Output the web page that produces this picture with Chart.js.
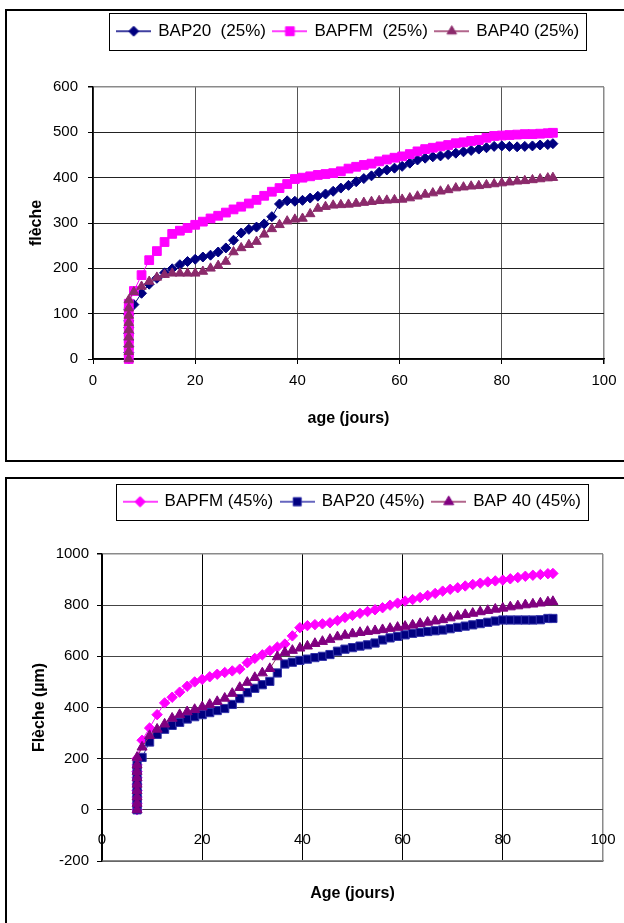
<!DOCTYPE html>
<html>
<head>
<meta charset="utf-8">
<script src="https://cdn.jsdelivr.net/npm/chart.js@4/dist/chart.umd.min.js"></script>
<style>
    html, body { margin: 0; padding: 0; background: #fff; overflow: hidden; }
    .frame { position: absolute; left: 5px; width: 640px; border: 2px solid #000; background: #fff; }
    #frame-top { top: 9px; height: 449px; }
    #frame-bottom { top: 477px; height: 450px; }
</style>
</head>
<body>
<div class="frame" id="frame-top"><canvas id="chart-top"></canvas></div>
<div class="frame" id="frame-bottom"><canvas id="chart-bottom"></canvas></div>
<script>
// age in days, shared by every series (the first rows are the loading readings at day 7)
const ages = [
    7, 7, 7, 7, 7, 7, 7, 7, 7,
    8, 9.5, 11, 12.5, 14, 15.5, 17, 18.5, 20,
    21.5, 23, 24.5, 26, 27.5, 29, 30.5, 32, 33.5, 35,
    36.5, 38, 39.5, 41, 42.5, 44, 45.5, 47, 48.5, 50,
    51.5, 53, 54.5, 56, 57.5, 59, 60.5, 62, 63.5, 65,
    66.5, 68, 69.5, 71, 72.5, 74, 75.5, 77, 78.5, 80,
    81.5, 83, 84.5, 86, 87.5, 89, 90
];

// top chart: 25% load
const bap20_25 = [
    0, 14, 28, 42, 56, 70, 84, 98, 110,
    120, 145, 165, 178, 190, 199, 208, 215, 220,
    225, 229, 236, 245, 262, 278, 286, 291, 298, 314,
    342, 349, 348, 350, 355, 359, 364, 370, 377, 383,
    391, 398, 404, 412, 417, 421, 425, 432, 439, 443,
    446, 448, 451, 454, 457, 460, 463, 466, 469, 470,
    469, 468, 469, 470, 472, 473, 475
];
const bapfm_25 = [
    0, 15, 30, 45, 60, 75, 90, 105, 122,
    150, 185, 218, 238, 258, 276, 283, 289, 296,
    303, 310, 316, 323, 330, 336, 343, 351, 360, 369,
    377, 386, 397, 400, 403, 406, 408, 410, 414, 420,
    424, 428, 431, 436, 440, 444, 447, 452, 458, 463,
    466, 469, 472, 476, 478, 481, 483, 488, 492, 493,
    494, 495, 496, 496, 497, 498, 499
];
const bap40_25 = [
    0, 16, 32, 48, 64, 80, 96, 112, 130,
    148, 160, 171, 180, 186, 189, 189, 189, 189,
    193, 200, 206, 215, 236, 245, 252, 259, 275, 287,
    296, 304, 308, 310, 320, 332, 336, 339, 340, 341,
    343, 345, 347, 349, 350, 351, 352, 355, 359, 363,
    366, 370, 373, 377, 379, 381, 382, 384, 386, 388,
    390, 392, 393, 395, 397, 399, 400
];

// bottom chart: 45% load
const bapfm_45 = [
    0, 25, 50, 75, 100, 125, 150, 175, 200,
    272, 320, 372, 418, 440, 460, 483, 500, 510,
    520, 530, 537, 543, 550, 575, 592, 606, 622, 636,
    648, 680, 712, 720, 724, 727, 731, 740, 752, 760,
    768, 775, 782, 790, 800, 808, 816, 822, 830, 838,
    846, 855, 862, 868, 875, 881, 886, 891, 895, 898,
    903, 908, 913, 917, 920, 923, 924
];
const bap20_45 = [
    0, 22, 44, 66, 88, 110, 132, 154, 175,
    205, 265, 295, 315, 330, 342, 355, 364, 372,
    380, 388, 396, 412, 435, 458, 475, 489, 502, 535,
    570, 577, 584, 589, 595, 600, 607, 620, 628, 634,
    640, 645, 652, 664, 672, 678, 684, 690, 694, 697,
    700, 703, 708, 713, 718, 723, 728, 733, 738, 742,
    742, 742, 742, 742, 743, 748, 748
];
const bap40_45 = [
    0, 25, 50, 75, 100, 125, 150, 175, 205,
    245, 290, 315, 335, 358, 372, 383, 392, 402,
    412, 423, 436, 455, 478, 498, 517, 535, 552, 598,
    615, 623, 632, 640, 650, 658, 666, 676, 682, 688,
    693, 697, 700, 704, 709, 713, 717, 722, 728, 733,
    738, 743, 750, 757, 763, 768, 774, 779, 784, 788,
    793, 797, 801, 804, 808, 812, 814
];

const labelsTop = ['BAP20  (25%)', 'BAPFM  (25%)', 'BAP40 (25%)'];
const labelsBottom = ['BAPFM (45%)', 'BAP20 (45%)', 'BAP 40 (45%)'];
const ageRange = [0, 100, 20];
const yRangeTop = [0, 600, 100];
const yRangeBottom = [-200, 1000, 200];

(function () {
    Chart.defaults.font.family = "'Liberation Sans', Arial, sans-serif";
    Chart.defaults.color = '#000';

    const points = values => ages.map((x, i) => ({x: x, y: values[i]}));

    function legendIcon(s) {
        const c = document.createElement('canvas');
        c.width = 35;
        c.height = 14;
        const g = c.getContext('2d');
        g.strokeStyle = s.line;
        g.lineWidth = 1.5;
        g.beginPath();
        g.moveTo(0, 7);
        g.lineTo(35, 7);
        g.stroke();
        g.fillStyle = s.fill;
        g.strokeStyle = s.stroke;
        g.lineWidth = 1;
        Chart.helpers.drawPoint(g, {pointStyle: s.style, radius: s.radius, borderWidth: 1, rotation: 0}, 17.5, 7);
        return c;
    }

    function makeDataset(label, values, s, order) {
        return {
            label: label,
            data: points(values),
            showLine: true,
            borderColor: s.line,
            borderWidth: 1,
            pointStyle: s.style,
            pointRadius: s.radius,
            pointBackgroundColor: s.fill,
            pointBorderColor: s.stroke,
            pointBorderWidth: 1,
            clip: false,
            order: order,
        };
    }

    // frame round the legend items, like the spreadsheet legend box
    const legendFrame = {
        id: 'legendFrame',
        afterDraw(chart) {
            const boxes = chart.legend && chart.legend.legendHitBoxes;
            if (!boxes || !boxes.length) return;
            const first = boxes[0];
            const last = boxes[boxes.length - 1];
            const mid = first.top + first.height / 2;
            const left = Math.round(first.left - 8.5) + 0.5;
            const right = Math.round(last.left + last.width + 7) + 0.5;
            const top = Math.round(mid - 18) + 0.5;
            const bottom = Math.round(mid + 18.5) + 0.5;
            const ctx = chart.ctx;
            ctx.save();
            ctx.strokeStyle = '#000';
            ctx.lineWidth = 1;
            ctx.strokeRect(left, top, right - left, bottom - top);
            ctx.restore();
        }
    };

    function newChart(el, cfg) {
        const icons = cfg.series.map(legendIcon);
        return new Chart(el, {
            type: 'scatter',
            data: {
                datasets: cfg.series.map((s, i) => makeDataset(cfg.labels[i], cfg.values[i], s, 3 - i)),
            },
            plugins: [legendFrame],
            options: {
                responsive: true,
                maintainAspectRatio: false,
                animation: false,
                devicePixelRatio: 1,
                layout: {
                    padding: {top: cfg.padTop, left: 0, right: cfg.padRight, bottom: 0},
                },
                scales: {
                    x: {
                        type: 'linear',
                        min: ageRange[0],
                        max: ageRange[1],
                        ticks: {
                            stepSize: ageRange[2],
                            padding: cfg.xTickPad,
                            mirror: cfg.xMirror,
                            font: {size: 15},
                            color: '#000',
                            callback: v => String(v),
                        },
                        grid: {
                            color: ctx => ctx.tick && ctx.tick.value === ageRange[1] ? '#8a8a8a' : cfg.vGrid,
                            lineWidth: ctx => ctx.tick && ctx.tick.value === ageRange[1] ? 1.5 : 1,
                            drawTicks: !cfg.xMirror,
                            tickLength: 5,
                            tickColor: '#000',
                        },
                        border: {color: cfg.xBorder, width: 1.5},
                        title: {
                            display: true,
                            text: cfg.xTitle,
                            font: {size: 16, weight: 'bold'},
                            padding: {top: 0, bottom: cfg.xTitlePad},
                        },
                        afterFit: scale => { scale.height = cfg.xHeight; },
                    },
                    y: {
                        min: cfg.yRange[0],
                        max: cfg.yRange[1],
                        ticks: {
                            stepSize: cfg.yRange[2],
                            padding: cfg.yTickPad,
                            font: {size: 15},
                            color: '#000',
                            callback: v => String(v),
                        },
                        grid: {
                            color: ctx => ctx.tick && ctx.tick.value === cfg.yRange[1] ? '#8a8a8a' : cfg.hGrid,
                            lineWidth: ctx => ctx.tick && ctx.tick.value === cfg.yRange[1] ? 1.5 : 1,
                            tickLength: 5,
                            tickColor: '#000',
                        },
                        border: {color: '#000', width: 1.5},
                        title: {
                            display: true,
                            text: cfg.yTitle,
                            font: {size: 16, weight: 'bold'},
                            padding: {top: cfg.yTitlePad, bottom: 0},
                        },
                        afterFit: scale => { scale.width = cfg.yWidth; },
                    },
                },
                plugins: {
                    legend: {
                        position: 'top',
                        align: 'center',
                        fullSize: false,
                        labels: {
                            usePointStyle: true,
                            pointStyleWidth: 32,
                            padding: 8,
                            color: '#000',
                            font: {size: 17},
                            sort: (a, b) => a.datasetIndex - b.datasetIndex,
                            generateLabels: chart => Chart.defaults.plugins.legend.labels.generateLabels(chart)
                                .map(item => Object.assign(item, {pointStyle: icons[item.datasetIndex]})),
                        },
                    },
                    // empty spacer between legend and plot area
                    subtitle: {
                        display: true,
                        text: '',
                        weight: 500,
                        fullSize: false,
                        font: {size: 1, lineHeight: 1},
                        padding: {top: cfg.gap, bottom: 0},
                    },
                    tooltip: {enabled: false},
                },
            },
        });
    }

    newChart(document.getElementById('chart-top'), {
        labels: labelsTop,
        values: [bap20_25, bapfm_25, bap40_25],
        series: [
            {line: '#000080', fill: '#000080', stroke: '#000080', style: 'rectRot', radius: 5},
            {line: '#ff00ff', fill: '#ff00ff', stroke: '#ff00ff', style: 'rect', radius: 6.2},
            {line: '#993366', fill: '#8b2a6b', stroke: '#8b2a6b', style: 'triangle', radius: 5.5},
        ],
        yRange: yRangeTop,
        xTitle: 'age (jours)',
        yTitle: 'flèche',
        padTop: 3.7,
        padRight: 43,
        gap: 36.3,
        xHeight: 101,
        yWidth: 86,
        xTickPad: 8,
        xMirror: false,
        yTickPad: 10,
        xTitlePad: 32,
        yTitlePad: 20,
        vGrid: '#555',
        hGrid: '#222',
        xBorder: '#000',
    });

    // bottom chart: age labels sit just above the -200 line, across the grid
    newChart(document.getElementById('chart-bottom'), {
        labels: labelsBottom,
        values: [bapfm_45, bap20_45, bap40_45],
        series: [
            {line: '#ff00ff', fill: '#ff00ff', stroke: '#ff00ff', style: 'rectRot', radius: 5.2},
            {line: '#3333aa', fill: '#000080', stroke: '#3333aa', style: 'rect', radius: 5.8},
            {line: '#993366', fill: '#800080', stroke: '#800080', style: 'triangle', radius: 5.8},
        ],
        yRange: yRangeBottom,
        xTitle: 'Age (jours)',
        yTitle: 'Flèche (µm)',
        padTop: 6.2,
        padRight: 44,
        gap: 32.8,
        xHeight: 68,
        yWidth: 95,
        xTickPad: 12,
        xMirror: true,
        yTickPad: 8,
        xTitlePad: 26,
        yTitlePad: 23,
        vGrid: '#000',
        hGrid: '#444',
        xBorder: '#8a8a8a',
    });
})();
</script>
</body>
</html>
